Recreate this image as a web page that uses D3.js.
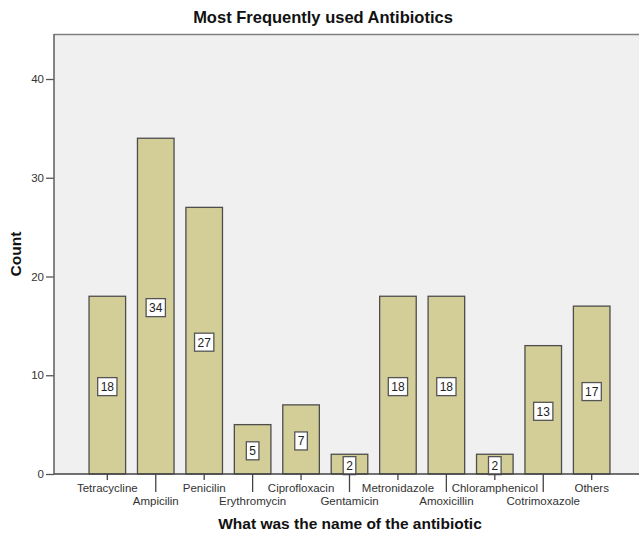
<!DOCTYPE html>
<html>
<head>
<meta charset="utf-8">
<script src="https://cdn.jsdelivr.net/npm/d3@7/dist/d3.min.js"></script>
<style>
  html, body { margin: 0; padding: 0; background: #fff; }
  svg { display: block; }
  text { font-family: "Liberation Sans", Arial, sans-serif; }
</style>
</head>
<body>
<svg id="chart" width="639" height="534"></svg>
<script>
// Antibiotic names (x categories) and their counts
const categories = [
  "Tetracycline", "Ampicilin", "Penicilin", "Erythromycin", "Ciprofloxacin",
  "Gentamicin", "Metronidazole", "Amoxicillin", "Chloramphenicol",
  "Cotrimoxazole", "Others"
];
const counts = [18, 34, 27, 5, 7, 2, 18, 18, 2, 13, 17];
const yTicks = [0, 10, 20, 30, 40];

const chartTitle = "Most Frequently used Antibiotics";
const xTitle = "What was the name of the antibiotic";
const yTitle = "Count";

const W = 639, H = 534;
const plot = { left: 54, right: 639, top: 34, bottom: 474 };

const svg = d3.select("#chart");

const x = d3.scaleBand()
  .domain(categories)
  .range([83.1, 615.9])
  .paddingInner(0.245)
  .paddingOuter(0.1225);

const y = d3.scaleLinear()
  .domain([0, 40])
  .range([plot.bottom, 79]);

// plot background
svg.append("rect")
  .attr("x", plot.left).attr("y", plot.top)
  .attr("width", plot.right - plot.left)
  .attr("height", plot.bottom - plot.top)
  .attr("fill", "#f0f0f0");

// top frame line
svg.append("line")
  .attr("x1", plot.left).attr("x2", plot.right)
  .attr("y1", plot.top + 0.5).attr("y2", plot.top + 0.5)
  .attr("stroke", "#808080").attr("stroke-width", 1.6);

// bars
svg.append("g").selectAll("rect")
  .data(counts)
  .join("rect")
  .attr("x", (d, i) => x(categories[i]))
  .attr("y", d => y(d))
  .attr("width", x.bandwidth())
  .attr("height", d => y(0) - y(d))
  .attr("fill", "#d3ce98")
  .attr("stroke", "#4d4d4d")
  .attr("stroke-width", 1.3);

// value labels in boxes at mid-height of each bar
const lbl = svg.append("g").selectAll("g")
  .data(counts)
  .join("g")
  .attr("transform", (d, i) =>
    `translate(${x(categories[i]) + x.bandwidth() / 2},${y(d / 2) + 1.5})`);

lbl.append("text")
  .attr("text-anchor", "middle")
  .attr("dy", "0.36em")
  .attr("font-size", 12)
  .attr("fill", "#222")
  .text(d => d)
  .each(function () {
    const b = this.getBBox();
    d3.select(this.parentNode).insert("rect", "text")
      .attr("x", -b.width / 2 - 2.8)
      .attr("y", -9)
      .attr("width", b.width + 5.6)
      .attr("height", 18)
      .attr("fill", "#fff")
      .attr("stroke", "#555")
      .attr("stroke-width", 1.3);
  });

// y axis
const yAxis = svg.append("g")
  .attr("transform", `translate(${plot.left},0)`)
  .call(d3.axisLeft(y).tickValues(yTicks).tickSize(8).tickPadding(2).tickSizeOuter(0));
yAxis.select(".domain").remove();
yAxis.selectAll(".tick line").attr("stroke", "#555").attr("stroke-width", 1.3);
yAxis.selectAll(".tick text")
  .attr("font-family", "Liberation Sans, Arial, sans-serif")
  .attr("font-size", 11.5).attr("fill", "#333");
svg.append("line")
  .attr("x1", plot.left).attr("x2", plot.left)
  .attr("y1", plot.top).attr("y2", plot.bottom)
  .attr("stroke", "#666").attr("stroke-width", 1.6);

// x axis with staggered labels
const xg = svg.append("g").attr("transform", `translate(0,${plot.bottom})`);
xg.append("line")
  .attr("x1", plot.left).attr("x2", plot.right)
  .attr("y1", 0).attr("y2", 0)
  .attr("stroke", "#444").attr("stroke-width", 1.6);
const xt = xg.selectAll("g.tick")
  .data(categories)
  .join("g")
  .attr("class", "tick")
  .attr("transform", d => `translate(${x(d) + x.bandwidth() / 2},0)`);
xt.append("line")
  .attr("y1", 0)
  .attr("y2", (d, i) => i % 2 === 0 ? 6 : 18)
  .attr("stroke", "#444").attr("stroke-width", 1.3);
xt.append("text")
  .attr("text-anchor", "middle")
  .attr("y", (d, i) => i % 2 === 0 ? 18 : 31)
  .attr("font-size", 11.5)
  .attr("fill", "#333")
  .text(d => d);

// titles
svg.append("text")
  .attr("x", 323).attr("y", 22.5)
  .attr("text-anchor", "middle")
  .attr("font-size", 16.5).attr("font-weight", "bold").attr("fill", "#111")
  .text(chartTitle);

svg.append("text")
  .attr("x", 350).attr("y", 529)
  .attr("text-anchor", "middle")
  .attr("font-size", 15.5).attr("font-weight", "bold").attr("fill", "#111")
  .text(xTitle);

svg.append("text")
  .attr("transform", "translate(20.5,254) rotate(-90)")
  .attr("text-anchor", "middle")
  .attr("font-size", 15.5).attr("font-weight", "bold").attr("fill", "#111")
  .text(yTitle);
</script>
</body>
</html>
